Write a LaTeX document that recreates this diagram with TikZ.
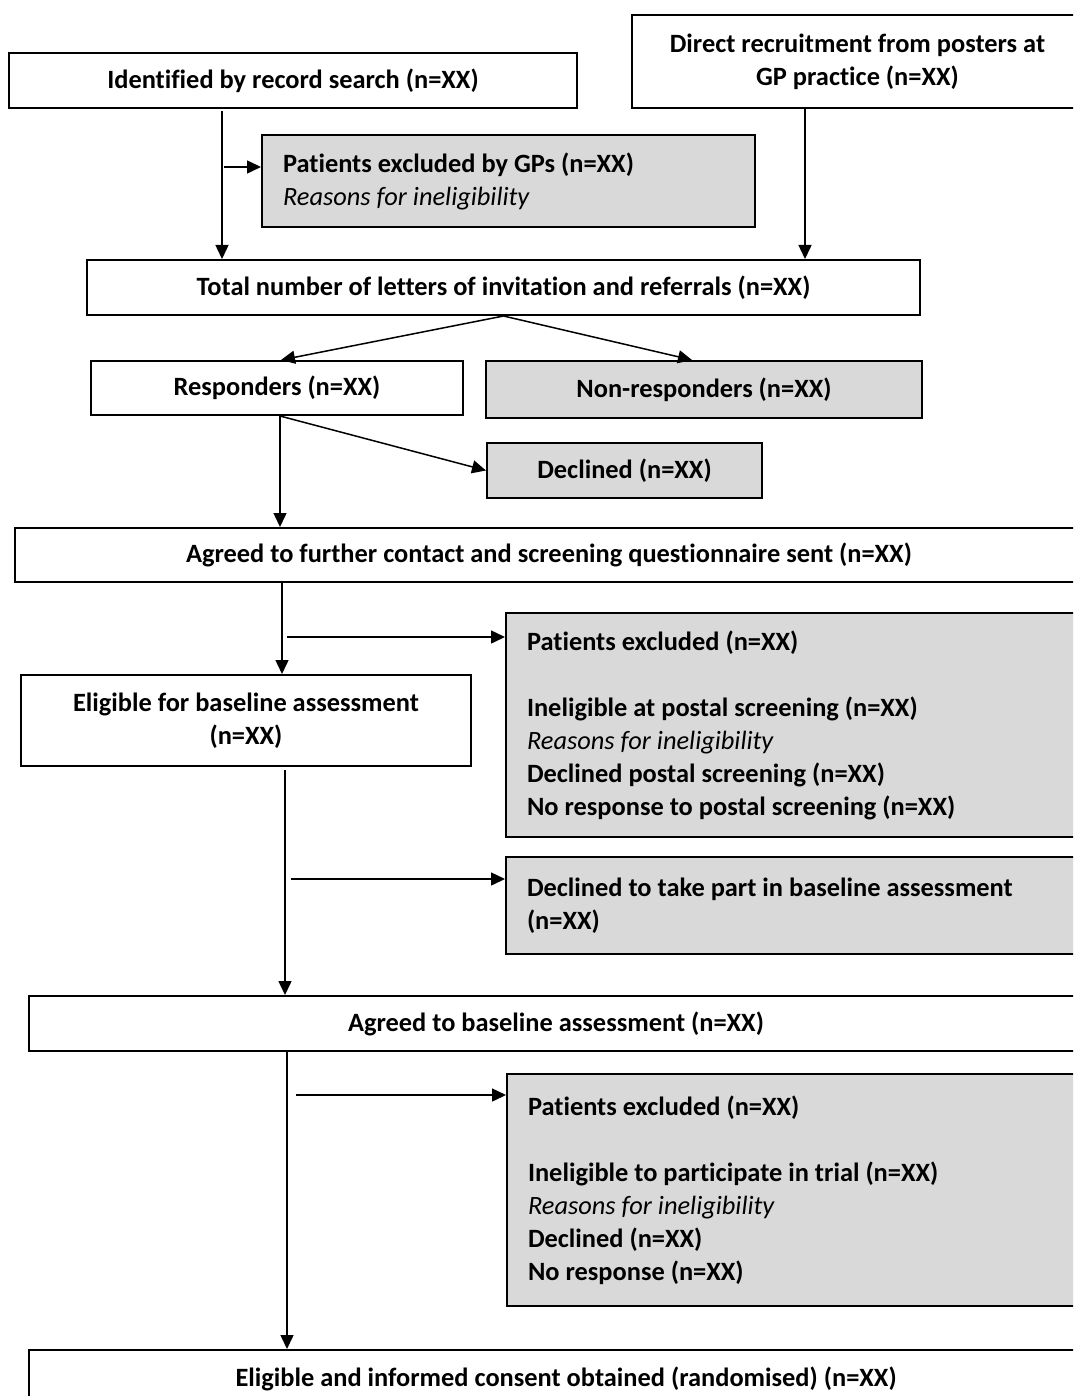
\documentclass[tikz,border=0pt]{standalone}
\usepackage{fontspec}
\setmainfont{Carlito}[Ligatures=NoCommon]
\usepackage{xcolor}
\usepackage{tikz}
\usetikzlibrary{shapes, arrows.meta, positioning, calc}
\definecolor{ExclGray}{RGB}{217,217,217}

\begin{document}
\begin{tikzpicture}[x=0.5pt, y=-0.5pt, >={Triangle[length=7pt,width=6.5pt]}]
      \tikzstyle{wbox} = [rectangle, draw=black, fill=white, line width=1pt, anchor=north west, inner xsep=10.5pt, font=\fontsize{13.2}{16.5}\selectfont\bfseries, align=flush center]
      \tikzstyle{gbox} = [wbox, fill=ExclGray, align=flush left]
      \tikzstyle{arr} = [->, line width=0.75pt]
      \useasboundingbox (0,0) rectangle (1073,1396);
      \clip (0,0) rectangle (1073,1396);

      % Sources
      \node (rec) [wbox, minimum width=284pt, minimum height=27.5pt] at (8,52) {Identified by record search (n=XX)};
      \node (post) [wbox, minimum width=225.5pt, minimum height=46.5pt] at (631,14) {Direct recruitment from posters at\\GP practice (n=XX)};
      \node (gpex) [gbox, minimum width=246.5pt, minimum height=46pt, text width=225.5pt] at (261,134) {Patients excluded by GPs (n=XX)\\{\mdseries\itshape Reasons for ineligibility}};
      \node (lett) [wbox, minimum width=416.5pt, minimum height=27.5pt] at (86,259) {Total number of letters of invitation and referrals (n=XX)};

      % Responses
      \node (resp) [wbox, minimum width=186pt, minimum height=27pt] at (90,360) {Responders (n=XX)};
      \node (nonr) [gbox, align=flush center, minimum width=218pt, minimum height=28.5pt] at (485,360) {Non-responders (n=XX)};
      \node (decl) [gbox, align=flush center, minimum width=137.5pt, minimum height=27.5pt] at (486,442) {Declined (n=XX)};
      \node (agree) [wbox, minimum width=534pt, minimum height=27pt] at (14,527) {Agreed to further contact and screening questionnaire sent (n=XX)};

      % Postal screening
      \node (pex1) [gbox, minimum width=288.5pt, minimum height=112pt, text width=267.5pt] at (505,612) {Patients excluded (n=XX)\\[16.5pt]Ineligible at postal screening (n=XX)\\{\mdseries\itshape Reasons for ineligibility}\\Declined postal screening (n=XX)\\No response to postal screening (n=XX)};
      \node (elig) [wbox, minimum width=225pt, minimum height=45.5pt] at (20,674) {Eligible for baseline assessment\\(n=XX)};
      \node (dbase) [gbox, minimum width=288.5pt, minimum height=48.5pt, text width=267.5pt] at (505,856) {Declined to take part in baseline assessment\\(n=XX)};

      % Baseline and randomisation
      \node (base) [wbox, minimum width=527pt, minimum height=27.5pt] at (28,995) {Agreed to baseline assessment (n=XX)};
      \node (pex2) [gbox, minimum width=288pt, minimum height=116pt, text width=267pt] at (506,1073) {Patients excluded (n=XX)\\[16.5pt]Ineligible to participate in trial (n=XX)\\{\mdseries\itshape Reasons for ineligibility}\\Declined (n=XX)\\No response (n=XX)};
      \node (rand) [wbox, minimum width=537pt, minimum height=29pt] at (28,1349) {Eligible and informed consent obtained (randomised) (n=XX)};

      % Start points of the vertical lines
      \coordinate (s1) at (222,111);
      \coordinate (s2) at (805,107);
      \coordinate (s3) at (282,583);
      \coordinate (s4) at (285,770);
      \coordinate (s5) at (287,1050);
      % Start points of the side arrows
      \coordinate (b1) at (224,167);
      \coordinate (b2) at (287,637);
      \coordinate (b3) at (291,879);
      \coordinate (b4) at (296,1095);

      % Connections
      \draw[arr] (s1) -- (s1 |- lett.north);
      \draw[arr] (b1) -- (b1 -| gpex.west);
      \draw[arr] (s2) -- (s2 |- lett.north);
      \draw[arr] (lett.south) -- ([xshift=2pt]resp.north);
      \draw[arr] (lett.south) -- ([xshift=-6pt]nonr.north);
      \draw[arr] ([xshift=1.5pt]resp.south) -- (decl.west);
      \draw[arr] ([xshift=1.5pt]resp.south) -- ([xshift=1.5pt]resp.south |- agree.north);
      \draw[arr] (s3) -- (s3 |- elig.north);
      \draw[arr] (b2) -- (b2 -| pex1.west);
      \draw[arr] (s4) -- (s4 |- base.north);
      \draw[arr] (b3) -- (b3 -| dbase.west);
      \draw[arr] (s5) -- (s5 |- rand.north);
      \draw[arr] (b4) -- (b4 -| pex2.west);
    \end{tikzpicture}
\end{document}
